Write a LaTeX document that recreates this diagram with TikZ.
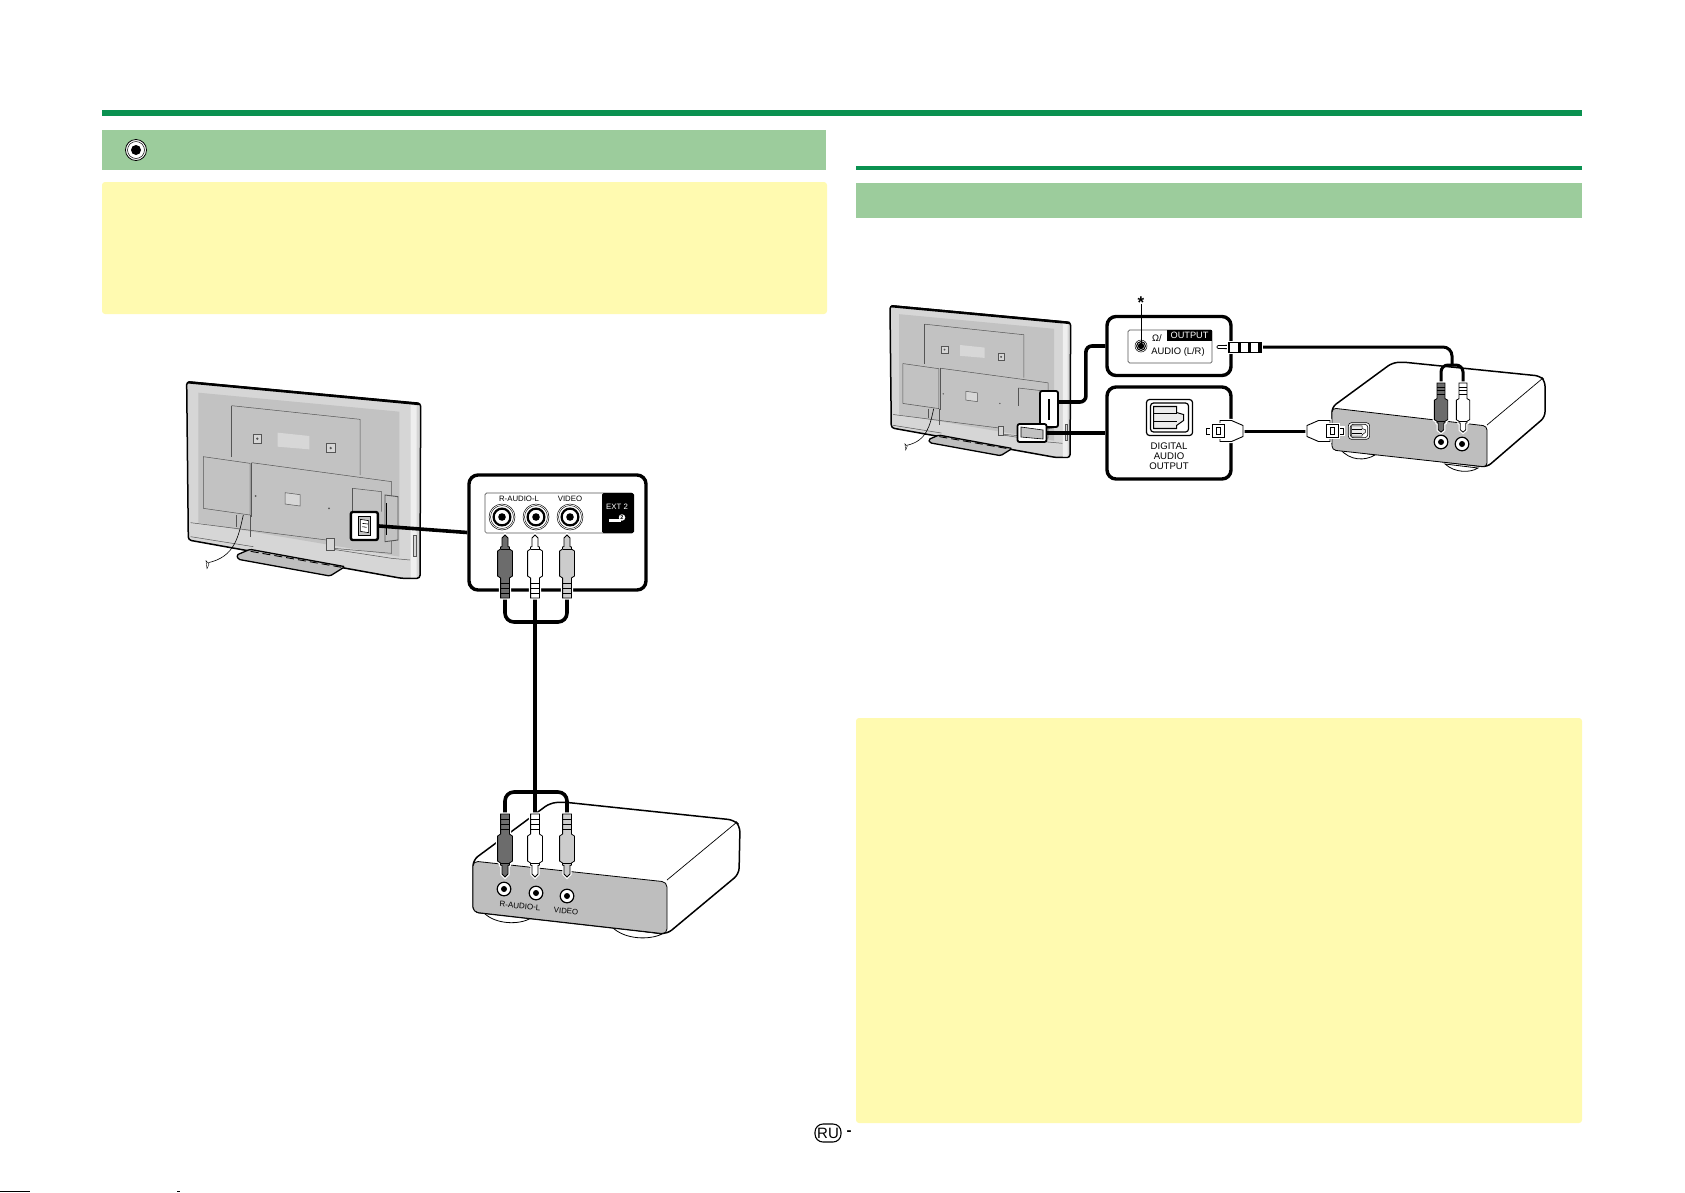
\documentclass[tikz,border=0pt]{standalone}
\usepackage{fontspec}
\setmainfont{Liberation Sans}
\usepackage{xcolor}
\usetikzlibrary{positioning,calc}
\definecolor{barGreen}{HTML}{0A9150}
\definecolor{headGreen}{HTML}{9CCC9C}
\definecolor{noteYellow}{HTML}{FFFAB0}
\definecolor{faceGray}{HTML}{BEBEBE}
\definecolor{tvGray}{HTML}{D6D6D6}
\definecolor{tvDark}{HTML}{C2C2C2}
\definecolor{tvLine}{HTML}{555555}
\definecolor{plugDark}{HTML}{6C6C6C}
\definecolor{plugGray}{HTML}{CCCCCC}
\tikzset{
  panelbox/.style={draw=black,line width=3.4pt,rounded corners=9pt,fill=white,inner sep=0pt},
  subpanel/.style={draw=tvLine,line width=0.7pt,rounded corners=1.5pt,fill=white,inner sep=0pt},
  cable/.style={draw=black,line width=3.6pt},
  thincable/.style={draw=black,line width=3pt},
  hilite/.style={draw=black,line width=2.4pt,rounded corners=2pt,fill=white,inner sep=0pt},
  caption/.style={inner sep=0pt,font=\fontsize{7.8}{9}\selectfont},
  halo/.style={preaction={draw=white,line width=3.4pt}},
  tvseam/.style={draw=tvLine,line width=0.5pt},
}
% rear of the set, in units of a 3x crop
\newcommand{\tvback}{
\draw[line width=1.5pt,fill=tvGray,rounded corners=3pt] (80,125) -- (782,190) -- (780,715) -- (725,715) -- (85,600) -- cycle;
\draw[line width=2.4pt] (85,127) -- (778,192);
\fill[tvDark] (115,158) -- (718,215) -- (718,650) -- (115,548) -- cycle;
\fill[white!60!tvGray] (752,195) -- (770,197) -- (770,712) -- (752,712) -- cycle;
\draw[tvseam] (215,197) -- (600,238) -- (600,405);
\draw[tvseam] (215,197) -- (215,350);
\draw[tvseam,fill=tvGray] (280,282) rectangle (305,310);
\draw[tvseam,fill=tvGray] (500,310) rectangle (525,338);
\fill[tvLine] (292,296) circle(4);
\fill[tvLine] (512,324) circle(4);
\fill[white!35!tvDark] (353,278) -- (448,288) -- (448,328) -- (353,320) -- cycle;
\draw[tvseam,fill=tvDark] (130,350) -- (270,370) -- (270,525) -- (130,505) -- cycle;
\draw[tvseam] (275,368) -- (695,425) -- (695,640) -- (520,625);
\draw[tvseam] (275,368) -- (275,530);
\draw[tvseam,fill=white!35!tvDark] (375,458) -- (420,464) -- (420,498) -- (375,492) -- cycle;
\fill[tvLine] (287,468) circle(3);
\fill[tvLine] (507,505) circle(3);
\draw[tvseam] (578,445) -- (665,455) -- (665,515);
\draw[tvseam] (578,445) -- (578,515);
\draw[tvseam] (92,548) -- (280,572) -- (500,600) -- (520,628) -- (695,655) -- (750,660);
\draw[tvseam] (92,590) -- (280,620);
\draw[tvseam] (230,525) -- (230,560);
\draw[tvseam] (270,525) -- (270,590);
\draw[tvseam,fill=tvGray] (500,595) rectangle (522,630);
\draw[tvseam,fill=tvDark,line width=0.9pt] (675,465) -- (714,470) -- (714,600) -- (675,605) -- cycle;
\draw[line width=1.1pt] (680,490) -- (680,585);
\draw[tvseam,fill=tvGray,line width=0.8pt] (760,585) rectangle (770,650);
\draw[line width=1.3pt,fill=faceGray,rounded corners=1.5pt] (230,645) -- (270,628) -- (555,680) -- (510,708) -- (235,658) -- cycle;
\draw[black,line width=0.9pt,dash pattern=on 8 off 4] (272,634) -- (545,682);
\draw[line width=0.6pt] (250,525) .. controls (235,590) and (225,650) .. (145,668);
\draw[line width=0.4pt,fill=white] (138,662) -- (147,672) -- (141,686) -- cycle;
}
% phono plug, 0,0 at the cable end, tip towards +y
\newcommand{\rcaplug}[1]{
\draw[line width=0.8pt,fill=#1,halo] (-4.4,0) -- (4.4,0) -- (4.4,20) -- (7.4,22) -- (7.4,47) -- (4.5,49) -- (4.5,51) -- (3,51.5) -- (3,60) -- (0,63) -- (-3,60) -- (-3,51.5) -- (-4.5,51) -- (-4.5,49) -- (-7.4,47) -- (-7.4,22) -- (-4.4,20) -- cycle;
\foreach \ry in {5,10,15} \draw[line width=0.8pt] (-4.4,\ry) -- (4.4,\ry);
\draw[line width=0.6pt] (-4.5,49) -- (4.5,49);
}
% optical plug, 0,0 at the cable end, tip towards -x
\newcommand{\optplug}{
\draw[line width=0.9pt,fill=white,halo] (-31,-3) rectangle (-36.5,3);
\draw[line width=0.9pt,fill=white,halo] (0,-5.5) -- (-11.5,-10.5) -- (-23,-10.5) -- (-23,10.5) -- (-11.5,10.5) -- (0,5.5) -- cycle;
\draw[line width=0.9pt,fill=white,halo] (-31,-6.5) rectangle (-19,6.5);
\draw[line width=0.9pt] (-27,-3.5) rectangle (-23,3.5);
}
% optical socket, centred; #1 is the pen
\newcommand{\optsocket}[1]{
\draw[line width=#1,fill=white,rounded corners=3pt] (-23,-18) rectangle (23,18);
\draw[line width=#1,fill=white,rounded corners=3pt] (-19,-14.5) rectangle (19,14.5);
\draw[line width=0.85*#1,fill=faceGray!30] (-16,-11) -- (7,-11) -- (7,-5) -- (14,-3) -- (14,3) -- (7,8) -- (7,11) -- (-16,11) -- cycle;
\draw[line width=0.85*#1] (-16,-4) -- (7,-4) (-16,4) -- (7,4);
}
\newcommand{\smalljack}[2]{
\draw[line width=1.2pt,fill=white] (#1,#2) circle(6.8);
\fill (#1,#2) circle(3);
}
\newcommand{\bigjack}[2]{
\draw[line width=0.5pt,fill=white] (#1,#2) circle(13);
\draw[line width=0.4pt] (#1,#2) circle(11.5);
\draw[line width=2.2pt] (#1,#2) circle(8.4);
\fill (#1,#2) circle(3.8);
}

\begin{document}
\begin{tikzpicture}[x=1pt,y=-1pt]
\useasboundingbox (0,0) rectangle (1685,1192);
% page furniture
\fill[barGreen] (102,110) rectangle (1582,116);
\fill[barGreen] (856,166) rectangle (1582,170);
\fill[headGreen] (102,130) rectangle (826,170);
\fill[headGreen] (856,183) rectangle (1582,218);
\fill[noteYellow,rounded corners=3pt] (102,182) rectangle (827,314);
\fill[noteYellow,rounded corners=3pt] (856,718) rectangle (1582,1123);
\node (headicon) [circle,draw=black,line width=0.8pt,fill=white,minimum size=21pt,inner sep=0pt] at (136,150) {};
\draw[line width=0.5pt] (headicon) circle(8.5);
\fill (headicon) circle(5);
\node (lang) [draw=black,line width=1.1pt,rounded corners=8pt,minimum width=26pt,minimum height=18pt,inner sep=0pt,font=\fontsize{15}{16}\selectfont] at (828,1133) {RU};
\node (dash) [inner sep=0pt,font=\fontsize{15}{16}\selectfont\bfseries] at (849,1133) {-};
\fill (0,1190.6) rectangle (30,1192);
\fill (177,1190.6) rectangle (180,1192);

% left: set and the connector panel
\begin{scope}[shift={(160,340)},scale=1/3]
\tvback
\node (tvportA) [hilite,minimum width=27pt,minimum height=28pt] at (613,558) {};
\draw[line width=0.6pt,fill=tvDark] (595,530) rectangle (632,585);
\draw[line width=0.6pt,fill=white] (601,538) -- (626,542) -- (626,578) -- (601,574) -- cycle;
\draw[line width=0.6pt] (607,550) -- (624,552) (607,560) -- (620,562);
\end{scope}
\node (extpanel) [panelbox,minimum width=177pt,minimum height=115pt] at (557.5,532.5) {};
\draw[cable] (tvportA.east) -- (extpanel.west);
\node (extstrip) [subpanel,minimum width=148pt,minimum height=40pt] at (559,513) {};
\node (extblack) [fill=black,rounded corners=1.5pt,minimum width=32pt,minimum height=40pt,inner sep=0pt] at (618,513) {};
\node (audiolabel) [caption] at (519,499) {R-AUDIO-L};
\node (videolabel) [caption] at (570,499) {VIDEO};
\node (extlabel) [caption,text=white] at (617,507) {EXT 2};
\fill[white] (609,519) rectangle (621,521.5);
\node (exttwo) [circle,fill=white,minimum size=6.5pt,inner sep=0pt,font=\fontsize{5.5}{5.5}\selectfont\bfseries] at (622,517.5) {2};
\bigjack{502}{517}
\bigjack{536}{517}
\bigjack{570}{517}
\coordinate (rhigh) at (505,598);
\coordinate (whigh) at (535,598);
\coordinate (vhigh) at (567,598);
\coordinate (rlow) at (505,814);
\coordinate (wlow) at (535,814);
\coordinate (vlow) at (567,814);

% left: receiving box
\draw[line width=0.8pt,fill=white] (483,912) .. controls (495,925) and (520,925) .. (531,918) -- cycle;
\draw[line width=0.8pt,fill=white] (612,927) .. controls (625,940) and (650,940) .. (662,934) -- cycle;
\draw[line width=1.5pt,fill=white,rounded corners=6pt] (473,860) -- (550,803) -- (563,802) -- (734,820) -- (740,826) -- (739,874) -- (667,934) -- (473,912) -- cycle;
\draw[line width=0.7pt] (737,822) -- (667,880);
\draw[line width=0.8pt,fill=faceGray,rounded corners=5pt] (473,861) -- (667,882) -- (667,934) -- (473,912) -- cycle;
\smalljack{504}{889}
\smalljack{536}{893}
\smalljack{567}{896}
\node (boxaudio) [caption,rotate=-5,font=\fontsize{8}{9}\selectfont] at (520,906) {R-AUDIO-L};
\node (boxvideo) [caption,rotate=-5] at (566,911) {VIDEO};

% left: cables
\draw[cable,rounded corners=9pt] (rhigh) -- ++(0,24) -| (vhigh);
\draw[cable] (whigh) -- (wlow);
\draw[cable,rounded corners=9pt] (rlow) -- ++(0,-22) -| (vlow);
\begin{scope}[shift={(rhigh)},yscale=-1]\rcaplug{plugDark}\end{scope}
\begin{scope}[shift={(whigh)},yscale=-1]\rcaplug{white}\end{scope}
\begin{scope}[shift={(vhigh)},yscale=-1]\rcaplug{plugGray}\end{scope}
\begin{scope}[shift={(rlow)}]\rcaplug{plugDark}\end{scope}
\begin{scope}[shift={(wlow)}]\rcaplug{white}\end{scope}
\begin{scope}[shift={(vlow)}]\rcaplug{plugGray}\end{scope}

% right: set and the two panels
\begin{scope}[shift={(869.4,273.5)},scale=0.2573]
\tvback
\end{scope}
\node (tvportB) [hilite,minimum width=18pt,minimum height=36pt,line width=1.8pt] at (1049,409) {};
\draw[line width=1.4pt] (1049,399) -- (1049,420);
\node (tvportC) [hilite,minimum width=29pt,minimum height=18pt,line width=1.8pt] at (1032,433) {};
\draw[line width=0.6pt,fill=tvDark] (1021,427) -- (1043,430) -- (1043,439) -- (1021,437) -- cycle;
\node (phonepanel) [panelbox,minimum width=124pt,minimum height=59pt] at (1169,346) {};
\node (optpanel) [panelbox,minimum width=124pt,minimum height=92pt] at (1169,433) {};
\draw[cable,rounded corners=6pt] ([yshift=7pt]tvportB.east) -- ++(27,0) |- (phonepanel.west);
\draw[cable] (tvportC.east) -- (optpanel.west);
\node (phonestrip) [subpanel,minimum width=84pt,minimum height=33pt] at (1170,346.5) {};
\node (phoneblack) [fill=black,inner sep=0pt,minimum width=45pt,minimum height=11.5pt] at (1189.5,335.5) {};
\node (outputlabel) [caption,text=white,font=\fontsize{9.2}{10}\selectfont] at (1189.5,335.7) {OUTPUT};
\node (phonesym) [caption,font=\fontsize{9.4}{10}\selectfont] at (1157,338.5) {Ω/};
\node (audiolr) [caption,font=\fontsize{9.4}{10}\selectfont] at (1178,352) {AUDIO (L/R)};
\draw[line width=0.5pt,fill=white] (1141,346) circle(6);
\draw[line width=1pt] (1141,346) circle(4.4);
\fill (1141,346) circle(3.2);
\node (starmark) [inner sep=0pt,font=\fontsize{17}{17}\selectfont\bfseries] at (1141,303) {*};
\draw[line width=0.9pt] (1141,304) -- (1141,346);
\begin{scope}[shift={(1169.5,417.5)}]\optsocket{1.2pt}\end{scope}
\node (optlabel) [caption,align=center,font=\fontsize{9.6}{10.2}\selectfont] at (1169,456) {DIGITAL\\AUDIO\\OUTPUT};

% right: receiving box
\draw[line width=0.8pt,fill=white] (1340,449) .. controls (1350,461) and (1365,461) .. (1375,455) -- cycle;
\draw[line width=0.8pt,fill=white] (1445,464) .. controls (1455,473) and (1470,473) .. (1478,468) -- cycle;
\draw[line width=1.5pt,fill=white,rounded corners=5pt] (1332,407) -- (1392,363) -- (1402,362) -- (1540,376) -- (1545,381) -- (1545,417) -- (1487,467) -- (1332,448) -- cycle;
\draw[line width=0.7pt] (1543,378) -- (1487,425);
\draw[line width=0.8pt,fill=faceGray,rounded corners=4pt] (1332,408) -- (1487,426) -- (1487,467) -- (1332,450) -- cycle;
\smalljack{1441}{442}
\smalljack{1462}{444}
\begin{scope}[shift={(1359,431)},scale=0.46]\optsocket{0.6pt}\end{scope}

% right: cables
\coordinate (rplug) at (1441,383);
\coordinate (lplug) at (1463,383);
\coordinate (jacktail) at (1261,347);
\coordinate (ysplit) at (1452,365);
\node (optleft) [inner sep=0pt,minimum size=0pt] at (1243,431) {};
\node (optright) [inner sep=0pt,minimum size=0pt] at (1307,431) {};
\draw[thincable,rounded corners=9pt] (jacktail) -| (ysplit);
\draw[thincable,rounded corners=7pt] (rplug) -- ++(0,-18) -| (lplug);
\draw[thincable] (optleft.center) -- (optright.center);
\begin{scope}[shift={(optleft)}]\optplug\end{scope}
\begin{scope}[shift={(optright)},xscale=-1]\optplug\end{scope}
\begin{scope}[shift={(rplug)},xscale=0.9,yscale=0.78]\rcaplug{plugDark}\end{scope}
\begin{scope}[shift={(lplug)},xscale=0.9,yscale=0.78]\rcaplug{white}\end{scope}
\draw[line width=0.8pt,fill=white,halo,rounded corners=1pt] (1229,345.3) -- (1217,345.6) -- (1217,348.4) -- (1229,348.7) -- cycle;
\draw[line width=1.1pt,fill=white,halo] (1229,342.5) rectangle (1261,352.5);
\fill (1238,342.5) rectangle (1241,352.5);
\fill (1248,342.5) rectangle (1251,352.5);
\fill (1258,342.5) rectangle (1261,352.5);
\end{tikzpicture}
\end{document}
